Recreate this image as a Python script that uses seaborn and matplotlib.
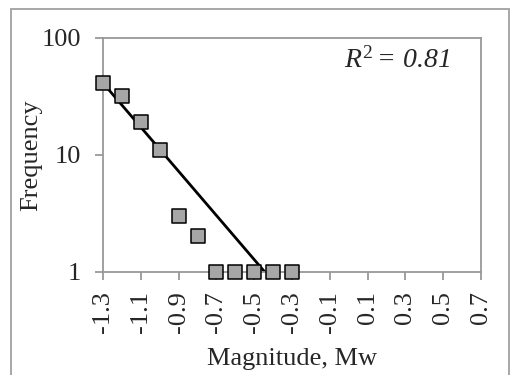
import matplotlib
matplotlib.use("Agg")
import matplotlib.pyplot as plt
import seaborn as sns
import pandas as pd
from matplotlib.patches import Rectangle
from matplotlib.ticker import FixedLocator, FixedFormatter, NullLocator

# Data
magnitude = [-1.3, -1.2, -1.1, -1.0, -0.9, -0.8, -0.7, -0.6, -0.5, -0.4, -0.3]
frequency = [41, 32, 19, 11, 3, 2, 1, 1, 1, 1, 1]
fit_x = [-1.3, -0.445]
fit_y = [41, 1]
x_ticks = [-1.3, -1.1, -0.9, -0.7, -0.5, -0.3, -0.1, 0.1, 0.3, 0.5, 0.7]
x_tick_labels = ["-1.3", "-1.1", "-0.9", "-0.7", "-0.5", "-0.3", "-0.1", "0.1", "0.3", "0.5", "0.7"]
y_ticks = [1, 10, 100]
y_tick_labels = ["1", "10", "100"]
r2_text = r"$R^{2}\!$ = 0.81"

sns.set_style("white")
plt.rcParams["font.family"] = ["Liberation Serif", "DejaVu Serif"]
plt.rcParams["mathtext.fontset"] = "custom"
plt.rcParams["mathtext.it"] = "Liberation Serif:italic"
plt.rcParams["mathtext.rm"] = "Liberation Serif"
plt.rcParams["axes.unicode_minus"] = False

df = pd.DataFrame({"Magnitude": magnitude, "Frequency": frequency})
fit_df = pd.DataFrame({"x": fit_x, "y": fit_y})

fig = plt.figure(figsize=(5.13, 3.75), dpi=100)
ax = fig.add_axes([103 / 513, 1 - 271.7 / 375, 378 / 513, 234 / 375])

grey = "#999999"
fs = 19
sns.lineplot(data=fit_df, x="x", y="y", ax=ax, color="black", linewidth=2, zorder=2)
sns.scatterplot(data=df, x="Magnitude", y="Frequency", ax=ax, marker="s", s=92,
                color="#a6a6a6", edgecolor="black", linewidth=1.1, zorder=3, clip_on=False)

ax.set_yscale("log")
ax.set_ylim(1, 100)
ax.set_xlim(-1.3, 0.7)
ax.xaxis.set_major_locator(FixedLocator(x_ticks))
ax.xaxis.set_major_formatter(FixedFormatter(x_tick_labels))
ax.yaxis.set_major_locator(FixedLocator(y_ticks))
ax.yaxis.set_major_formatter(FixedFormatter(y_tick_labels))
ax.yaxis.set_minor_locator(NullLocator())
ax.xaxis.set_minor_locator(NullLocator())

for sp in ax.spines.values():
    sp.set_color(grey)
    sp.set_linewidth(1.3)
    sp.set_visible(True)

ax.tick_params(axis="x", which="major", direction="out", length=6, width=1.3,
               color=grey, labelsize=fs, rotation=90, pad=8, bottom=True)
ax.tick_params(axis="y", which="major", direction="out", length=6, width=1.3,
               color=grey, labelsize=fs, pad=10, left=True)

ax.set_xlabel("Magnitude, Mw", fontsize=fs, labelpad=11)
ax.set_ylabel("Frequency", fontsize=fs, labelpad=-1)

ax.text(0.918, 0.905, r2_text, transform=ax.transAxes, ha="right", va="center",
        fontsize=fs + 1, fontstyle="italic")

# Outer frame
frame = Rectangle((11 / 513, -0.05), (509 - 11) / 513, 1 - 9 / 375 + 0.05,
                  transform=fig.transFigure, fill=False, edgecolor="#a0a0a0",
                  linewidth=1.3, clip_on=False)
fig.patches.append(frame)

fig.savefig("out.png", dpi=100)
